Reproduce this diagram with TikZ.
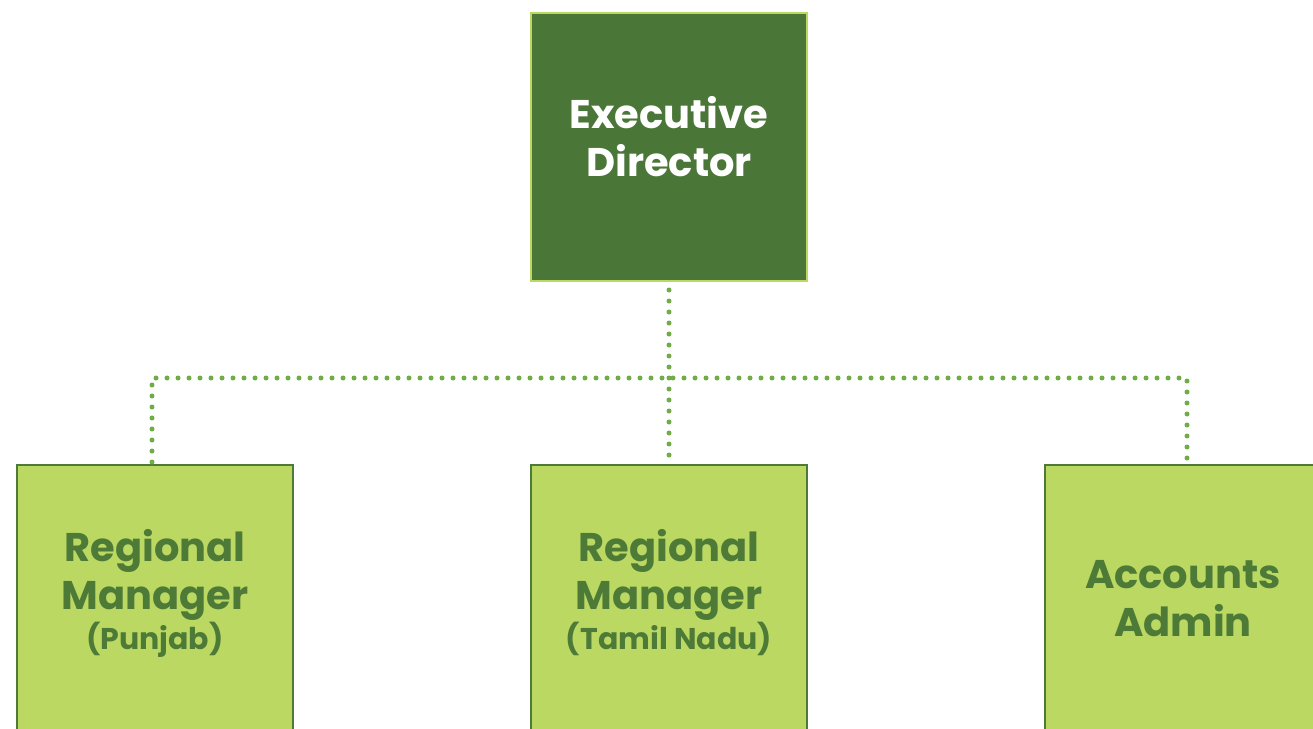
\documentclass[tikz,border=0pt]{standalone}
\usepackage{fontspec}
\setmainfont{Poppins}
\usepackage{xcolor}
\usepackage{tikz}
\usetikzlibrary{positioning}

\definecolor{darkleaf}{HTML}{4A7637}
\definecolor{lightleaf}{HTML}{BBD862}
\definecolor{leafline}{HTML}{4E7A38}
\definecolor{dotgreen}{HTML}{70AD47}

\begin{document}
\begin{tikzpicture}[x=1pt, y=-1pt, thick,
    headbox/.style={draw=lightleaf, line width=2pt, fill=darkleaf, text=white,
        minimum width=276pt, minimum height=268pt, align=center,
        font=\fontsize{40}{48}\selectfont\bfseries},
    staffbox/.style={draw=leafline, line width=2pt, fill=lightleaf, text=leafline,
        minimum width=276pt, minimum height=268pt, align=center,
        font=\fontsize{40}{48}\selectfont\bfseries},
    dotline/.style={dotgreen, line width=5pt, line cap=round, dash pattern=on 0pt off 11pt}]
            \useasboundingbox (0,0) rectangle (1313,728);
            % Nodes
            \node[headbox, anchor=north west] (exec) at (530,12) {Executive\\Director\\[-27pt]};
            \node[staffbox, anchor=north west] (rmp) at (16,464) {Regional\\Manager\\[-8pt]{\fontsize{30}{36}\selectfont(Punjab)}\\[-28pt]};
            \node[staffbox, anchor=north west] (rmt) at (530,464) {Regional\\Manager\\[-8pt]{\fontsize{30}{36}\selectfont(Tamil Nadu)}\\[-28pt]};
            \node[staffbox, anchor=north west] (acc) at (1044,464) {Accounts\\Admin};
            \coordinate (bus) at (668,378);

            % Lines
            \draw[dotline] ([yshift=-8pt]exec.south) -- ([yshift=2pt]rmt.north);
            \draw[dotline] ([xshift=-3pt,yshift=2pt]rmp.north) -- ([xshift=-3pt]rmp.north |- bus)
                -- ([xshift=4pt]acc.north |- bus) -- ([xshift=4pt,yshift=2pt]acc.north);
\end{tikzpicture}
\end{document}
